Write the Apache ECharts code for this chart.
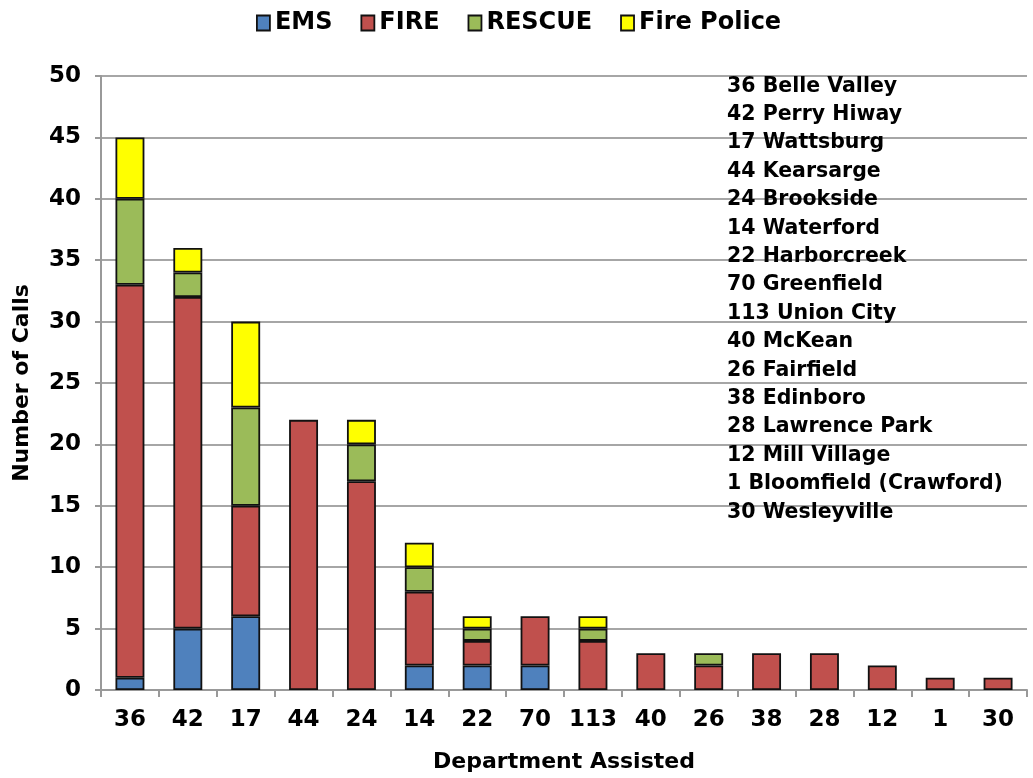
<!DOCTYPE html>
<html>
<head>
<meta charset="utf-8">
<script src="https://cdn.jsdelivr.net/npm/echarts@6/dist/echarts.min.js"></script>
<style>
  html, body { margin: 0; padding: 0; background: #ffffff; }
  #chart { width: 1033px; height: 778px; }
</style>
</head>
<body>
<div id="chart"></div>
<script>
const departments = ['36', '42', '17', '44', '24', '14', '22', '70', '113', '40', '26', '38', '28', '12', '1', '30']
const emsCalls = [1, 5, 6, 0, 0, 2, 2, 2, 0, 0, 0, 0, 0, 0, 0, 0]
const fireCalls = [32, 27, 9, 22, 17, 6, 2, 4, 4, 3, 2, 3, 3, 2, 1, 1]
const rescueCalls = [7, 2, 8, 0, 3, 2, 1, 0, 1, 0, 1, 0, 0, 0, 0, 0]
const firePoliceCalls = [5, 2, 7, 0, 2, 2, 1, 0, 1, 0, 0, 0, 0, 0, 0, 0]
const departmentNames = [
  '36 Belle Valley', '42 Perry Hiway', '17 Wattsburg', '44 Kearsarge',
  '24 Brookside', '14 Waterford', '22 Harborcreek', '70 Greenfield',
  '113 Union City', '40 McKean', '26 Fairfield', '38 Edinboro',
  '28 Lawrence Park', '12 Mill Village', '1 Bloomfield (Crawford)', '30 Wesleyville'
]

const FONT = '"DejaVu Sans", Verdana, sans-serif'
const chart = echarts.init(document.getElementById('chart'))

const makeSeries = (name, data, color) => ({
  name,
  type: 'bar',
  stack: 'calls',
  barWidth: '50%',
  data: data.map((v) => (v > 0 ? v : null)),
  itemStyle: {
    color,
    borderColor: '#111',
    borderWidth: 1.8
  }
})

chart.setOption({
  backgroundColor: '#ffffff',
  animation: false,
  legend: {
    top: 6,
    left: 251,
    icon: 'rect',
    itemWidth: 13,
    itemHeight: 15,
    itemGap: 28,
    textStyle: {
      fontFamily: FONT,
      fontSize: 24,
      fontWeight: 'bold',
      color: '#000'
    },
    itemStyle: { borderColor: '#111', borderWidth: 1.8 }
  },
  grid: {
    left: 101,
    right: 6,
    top: 76,
    bottom: 88,
    outerBoundsMode: 'none'
  },
  xAxis: {
    type: 'category',
    data: departments,
    name: 'Department Assisted',
    nameLocation: 'middle',
    nameGap: 61,
    nameTextStyle: {
      fontFamily: FONT,
      fontSize: 22,
      fontWeight: 'bold',
      color: '#000'
    },
    axisLine: { lineStyle: { color: '#999', width: 2 } },
    axisTick: { show: true, length: 7, lineStyle: { color: '#999', width: 2 } },
    axisLabel: {
      interval: 0,
      margin: 19,
      fontFamily: FONT,
      fontSize: 23,
      fontWeight: 'bold',
      color: '#000'
    }
  },
  yAxis: {
    type: 'value',
    min: 0,
    max: 50,
    interval: 5,
    name: 'Number of Calls',
    nameLocation: 'middle',
    nameGap: 68,
    nameTextStyle: {
      fontFamily: FONT,
      fontSize: 22,
      fontWeight: 'bold',
      color: '#000'
    },
    axisLine: { show: true, lineStyle: { color: '#999', width: 2 } },
    axisTick: { show: true, length: 6, lineStyle: { color: '#999', width: 2 } },
    splitLine: { lineStyle: { color: '#a6a6a6', width: 2 } },
    axisLabel: {
      margin: 20,
      fontFamily: FONT,
      fontSize: 23,
      fontWeight: 'bold',
      color: '#000'
    }
  },
  graphic: [
    {
      type: 'text',
      left: 727,
      top: 72,
      z: 100,
      style: {
        text: departmentNames.join('\n'),
        fontFamily: FONT,
        fontSize: 20.5,
        fontWeight: 'bold',
        lineHeight: 28.4,
        fill: '#000'
      }
    }
  ],
  series: [
    makeSeries('EMS', emsCalls, '#4f81bd'),
    makeSeries('FIRE', fireCalls, '#c0504d'),
    makeSeries('RESCUE', rescueCalls, '#9bbb59'),
    makeSeries('Fire Police', firePoliceCalls, '#ffff00')
  ]
})
</script>
</body>
</html>
